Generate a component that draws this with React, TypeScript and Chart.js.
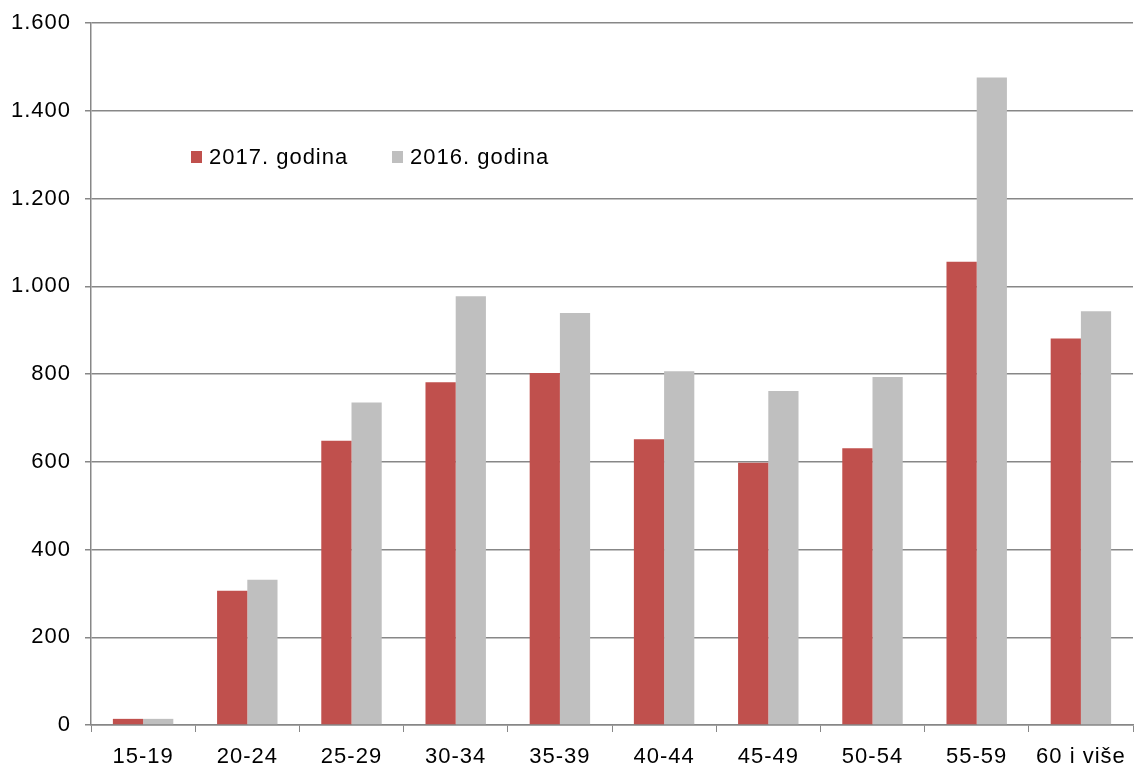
import React, { useEffect, useRef } from "react";
import { Chart, registerables } from "chart.js";

Chart.register(...registerables);

const categories = ["15-19", "20-24", "25-29", "30-34", "35-39", "40-44", "45-49", "50-54", "55-59", "60 i više"];
const series2017 = [14, 306, 648, 781, 802, 651, 598, 631, 1056, 881];
const series2016 = [14, 331, 735, 977, 939, 806, 761, 793, 1476, 943];
const seriesLabels = ["2017. godina", "2016. godina"];
const yTicks = [0, 200, 400, 600, 800, 1000, 1200, 1400, 1600];

const RED = "#C0504D";
const GRAY = "#BFBFBF";
const GRID = "#878787";
const FONT = "'Liberation Sans', Arial, sans-serif";
const FS = 22;
const LS = "1px";

const fmt = (v: number) => v.toString().replace(/\B(?=(\d{3})+(?!\d))/g, ".");

const spacingPlugin = {
  id: "spacing",
  beforeUpdate(chart: any) {
    chart.ctx.letterSpacing = LS;
  },
  beforeDraw(chart: any) {
    chart.ctx.letterSpacing = LS;
  },
};

const legendPlugin = {
  id: "insideLegend",
  afterDraw(chart: any) {
    const { ctx, chartArea } = chart;
    const items = chart.data.datasets.map((d: any) => ({ label: d.label, color: d.backgroundColor }));
    const xs = [chartArea.left + 100, chartArea.left + 301];
    const y = 157;
    ctx.save();
    ctx.letterSpacing = LS;
    ctx.font = `${FS}px ${FONT}`;
    ctx.textBaseline = "middle";
    items.forEach((it: any, i: number) => {
      ctx.fillStyle = it.color;
      ctx.fillRect(xs[i], y - 6, 11, 12);
      ctx.fillStyle = "#000";
      ctx.fillText(it.label, xs[i] + 18, y + 1);
    });
    ctx.restore();
  },
};

export default function App() {
  const ref = useRef<HTMLCanvasElement | null>(null);
  useEffect(() => {
    document.body.style.margin = "0";
    const chart = new Chart(ref.current!, {
      type: "bar",
      data: {
        labels: categories,
        datasets: [
          { label: seriesLabels[0], data: series2017, backgroundColor: RED, categoryPercentage: 0.58, barPercentage: 1 },
          { label: seriesLabels[1], data: series2016, backgroundColor: GRAY, categoryPercentage: 0.58, barPercentage: 1 },
        ],
      },
      options: {
        animation: false,
        responsive: false,
        layout: { padding: { top: 23, right: 2, left: 0, bottom: 0 } },
        plugins: { legend: { display: false }, tooltip: { enabled: false } },
        scales: {
          x: {
            offset: true,
            grid: { drawOnChartArea: false, color: GRID, tickLength: 7, offset: true },
            border: { color: GRID, width: 1.5 },
            ticks: { color: "#000", font: { family: FONT, size: FS }, padding: 12, maxRotation: 0, autoSkip: false },
            afterFit(s: any) { s.height = 42; s.paddingLeft = 0; s.paddingRight = 0; },
          },
          y: {
            min: 0,
            max: 1600,
            afterBuildTicks(s: any) { s.ticks = yTicks.map((v) => ({ value: v })); },
            grid: { color: GRID, lineWidth: 1.5, tickLength: 6 },
            border: { color: GRID, width: 1.5 },
            ticks: { color: "#000", font: { family: FONT, size: FS }, padding: 14, callback: (v: any) => fmt(Number(v)) },
            afterFit(s: any) { s.width = 91; s.paddingTop = 0; s.paddingBottom = 0; },
          },
        },
      },
      plugins: [spacingPlugin, legendPlugin],
    } as any);
    return () => chart.destroy();
  }, []);
  return <canvas ref={ref} width={1135} height={767} style={{ display: "block" }} />;
}
